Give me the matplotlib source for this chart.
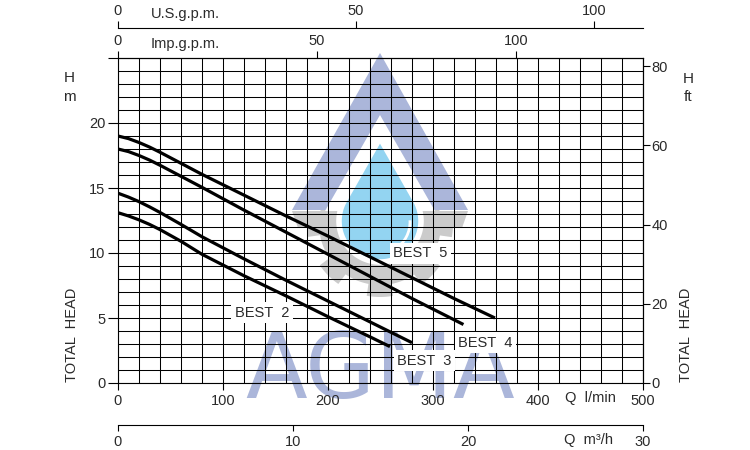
import numpy as np
import matplotlib
matplotlib.use('Agg')
import matplotlib.pyplot as plt
from matplotlib.patches import Polygon, Arc

# pump curves, Q in l/min, H in m
q_best5 = [0, 10, 20, 30, 40, 60, 80, 120, 160, 200, 240, 280, 320, 359]
h_best5 = [19.0, 18.8, 18.5, 18.15, 17.75, 16.9, 16.05, 14.45, 12.85, 11.3, 9.7, 8.1, 6.5, 5.0]
q_best4 = [0, 10, 20, 30, 40, 60, 80, 120, 160, 200, 240, 280, 329]
h_best4 = [18.0, 17.8, 17.5, 17.15, 16.75, 15.9, 15.05, 13.3, 11.6, 9.9, 8.2, 6.5, 4.5]
q_best3 = [0, 10, 20, 30, 40, 60, 80, 120, 160, 200, 240, 280]
h_best3 = [14.6, 14.3, 13.95, 13.55, 13.12, 12.2, 11.25, 9.55, 7.9, 6.3, 4.7, 3.1]
q_best2 = [0, 10, 20, 30, 40, 60, 80, 120, 160, 200, 240, 259]
h_best2 = [13.1, 12.85, 12.55, 12.2, 11.8, 10.9, 9.9, 8.25, 6.7, 5.1, 3.55, 2.8]

curve_names = ['BEST  5', 'BEST  4', 'BEST  3', 'BEST  2']
label_q = [288, 350, 292, 137]
label_h = [10.0, 3.1, 1.7, 5.4]

lpm_ticks = [0, 100, 200, 300, 400, 500]
m_ticks = [0, 5, 10, 15, 20, 25]
m_labels = ['0', '5', '10', '15', '20', '']
ft_ticks = [0, 20, 40, 60, 80]
m3h_ticks = [0, 10, 20, 30]
imp_ticks = [0, 50, 100]
us_ticks = [0, 50, 100]

W, H = 750, 450
plt.rcParams['font.family'] = ['Liberation Sans', 'DejaVu Sans']
txt = '#2a2a2a'


def P(x, y):
    # pixel position -> figure fraction
    return (x / W, 1 - y / H)


fig = plt.figure(figsize=(7.5, 4.5), dpi=100)
ax = fig.add_axes([118 / W, 67 / H, 525 / W, 325 / H])
ax.set_facecolor('none')

# ---- watermark (behind the grid) ----
blue = '#abb6da'
gray = '#cbcbcb'
drop_c = '#93d4f1'
th = np.linspace(0, 2 * np.pi, 800)
r = np.where(np.cos(8 * th) > 0.1, 73, 61)
gx = 380 + r * np.cos(th)
gy = 224 + r * np.sin(th)
fig.patches.append(Polygon([P(a, b) for a, b in zip(gx, gy)], closed=True,
                           transform=fig.transFigure, fc=gray, ec='none', zorder=-3))
fig.patches.append(Polygon([P(292, 211), P(468, 211), P(462, 228), P(298, 228)],
                           transform=fig.transFigure, fc=gray, ec='none', zorder=-3))
fig.patches.append(Polygon([P(380, 53), P(468, 210), P(292, 210)],
                           transform=fig.transFigure, fc=blue, ec='none', zorder=-2))
fig.patches.append(Polygon([P(380, 115), P(435, 211), P(325, 211)],
                           transform=fig.transFigure, fc='white', ec='none', zorder=-2))
cx, cy, rr, apex = 380, 221, 41, 138
phi = np.arccos(rr / (cy - apex))
ang = np.linspace(np.pi / 2 + phi, np.pi / 2 - phi + 2 * np.pi, 200)
dx = list(cx + rr * np.cos(ang)) + [cx]
dy = list(cy - rr * np.sin(ang)) + [apex]
fig.patches.append(Polygon([P(a, b) for a, b in zip(dx, dy)], closed=True,
                           transform=fig.transFigure, fc=drop_c, ec='white', lw=4, zorder=-1))
fig.patches.append(Arc(P(378, 222), 64 / W, 64 / H, theta1=-70, theta2=5,
                       transform=fig.transFigure, color='white', lw=2, zorder=-1))
fig.text(*P(380, 398), 'AGMA', ha='center', va='baseline', fontsize=65,
         family='DejaVu Sans', color=blue, zorder=-1)

# ---- grid + axes ----
ax.set_xlim(0, 500)
ax.set_ylim(0, 25)
ax.set_xticks(lpm_ticks)
ax.set_xticks(np.arange(0, 501, 20), minor=True)
ax.set_yticks(m_ticks)
ax.set_yticklabels(m_labels)
ax.set_yticks(np.arange(0, 26, 1), minor=True)
ax.grid(True, which='both', color='black', lw=0.75)
ax.tick_params(which='minor', length=0)
ax.tick_params(axis='x', which='major', length=5, width=0.8, pad=3,
               labelsize=10.5, labelcolor=txt)
ax.tick_params(axis='y', which='major', length=7, width=0.8, pad=2,
               labelsize=10.5, labelcolor=txt)
for s in ax.spines.values():
    s.set_linewidth(0.8)

for q, h in [(q_best5, h_best5), (q_best4, h_best4), (q_best3, h_best3), (q_best2, h_best2)]:
    ax.plot(q, h, color='black', lw=2.3, solid_capstyle='butt', solid_joinstyle='round', zorder=3)

for name, q, h in zip(curve_names, label_q, label_h):
    ax.text(q, h, name, ha='center', va='center', fontsize=10.5, color=txt, zorder=4,
            bbox=dict(fc='white', ec='none', pad=2.5))

# right axis in ft
ft = ax.secondary_yaxis('right', functions=(lambda m: m / 0.3048, lambda f: f * 0.3048))
ft.set_yticks(ft_ticks)
ft.tick_params(length=5, width=0.8, pad=1, labelsize=10.5, labelcolor=txt)

# top: Imp.g.p.m. on the frame, U.S.g.p.m. above
imp = ax.secondary_xaxis('top', functions=(lambda x: x / 3.79, lambda x: x * 3.79))
imp.set_xticks(imp_ticks)
imp.tick_params(length=5, width=0.8, pad=2, labelsize=10.5, labelcolor=txt)
us = ax.secondary_xaxis(1 + 30 / 325, functions=(lambda x: x / 4.533, lambda x: x * 4.533))
us.set_xticks(us_ticks)
us.tick_params(length=5, width=0.8, pad=2, labelsize=10.5, labelcolor=txt)
for s in us.spines.values():
    s.set_linewidth(0.8)

# bottom: m3/h
m3h = ax.secondary_xaxis(-42 / 325, functions=(lambda x: x * 0.06, lambda x: x / 0.06))
m3h.set_xticks(m3h_ticks)
m3h.tick_params(length=4, width=0.8, pad=3, labelsize=10.5, labelcolor=txt)
for s in m3h.spines.values():
    s.set_linewidth(0.8)

narrow = ['Liberation Sans Narrow', 'Liberation Sans', 'DejaVu Sans']
fig.text(*P(151, 14), 'U.S.g.p.m.', ha='left', va='center', fontsize=10.5, color=txt, family=narrow)
fig.text(*P(151, 44), 'Imp.g.p.m.', ha='left', va='center', fontsize=10.5, color=txt, family=narrow)
fig.text(*P(590, 398), 'Q  l/min', ha='center', va='center', fontsize=10.5, color=txt)
fig.text(*P(589, 440), 'Q  m³/h', ha='center', va='center', fontsize=10.5, color=txt)
fig.text(*P(69, 78), 'H', ha='center', va='center', fontsize=11, color=txt)
fig.text(*P(69, 97), 'm', ha='center', va='center', fontsize=11, color=txt)
fig.text(*P(688, 79), 'H', ha='center', va='center', fontsize=11, color=txt)
fig.text(*P(688, 97), 'ft', ha='center', va='center', fontsize=11, color=txt)
fig.text(*P(72, 335), 'TOTAL  HEAD', rotation=90, ha='center', va='center', fontsize=10.5, color=txt)
fig.text(*P(686, 335), 'TOTAL  HEAD', rotation=90, ha='center', va='center', fontsize=10.5, color=txt)

fig.savefig('out.png', dpi=100)
